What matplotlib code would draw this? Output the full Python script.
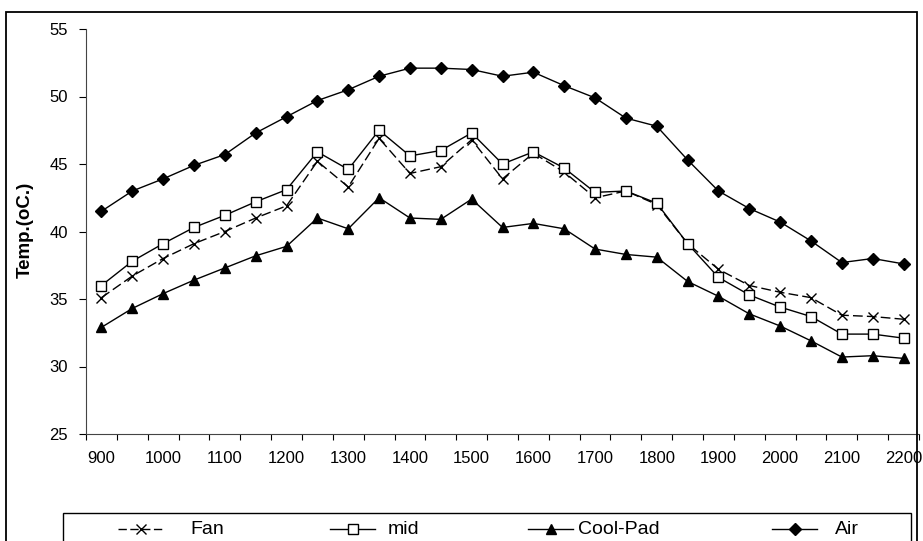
#!/usr/bin/env python3
"""Temperature profile over the day: Fan, mid, Cool-Pad and Air."""

import numpy as np
import matplotlib
matplotlib.use("Agg")
import matplotlib.pyplot as plt
from matplotlib.lines import Line2D
from matplotlib.patches import Rectangle

plt.rcParams["font.family"] = ["Liberation Sans", "DejaVu Sans"]

# clock times (hhmm), one per half hour
times = ["900", "930", "1000", "1030", "1100", "1130", "1200", "1230", "1300",
         "1330", "1400", "1430", "1500", "1530", "1600", "1630", "1700", "1730",
         "1800", "1830", "1900", "1930", "2000", "2030", "2100", "2130", "2200"]

fan = [35.1, 36.7, 38.0, 39.1, 40.0, 41.0, 41.9, 45.2, 43.3, 46.9, 44.3, 44.8,
       46.8, 43.9, 45.8, 44.4, 42.5, 43.0, 42.0, 39.1, 37.2, 36.0, 35.5, 35.1,
       33.8, 33.7, 33.5]
mid = [36.0, 37.8, 39.1, 40.3, 41.2, 42.2, 43.1, 45.9, 44.6, 47.5, 45.6, 46.0,
       47.3, 45.0, 45.9, 44.7, 42.9, 43.0, 42.1, 39.1, 36.6, 35.3, 34.4, 33.7,
       32.4, 32.4, 32.1]
cool_pad = [32.9, 34.3, 35.4, 36.4, 37.3, 38.2, 38.9, 41.0, 40.2, 42.5, 41.0, 40.9,
            42.4, 40.3, 40.6, 40.2, 38.7, 38.3, 38.1, 36.3, 35.2, 33.9, 33.0, 31.9,
            30.7, 30.8, 30.6]
air = [41.5, 43.0, 43.9, 44.9, 45.7, 47.3, 48.5, 49.7, 50.5, 51.5, 52.1, 52.1,
       52.0, 51.5, 51.8, 50.8, 49.9, 48.4, 47.8, 45.3, 43.0, 41.7, 40.7, 39.3,
       37.7, 38.0, 37.6]

W, H = 923, 541


def fx(px):
    return px / W


def fy(py):
    return 1 - py / H


fig = plt.figure(figsize=(W / 100, H / 100), dpi=100)
ax = fig.add_axes([fx(86), fy(434), fx(919) - fx(86), fy(29) - fy(434)])

x = np.arange(len(times))
styles = [
    ("Fan", fan, dict(marker="x", ms=7, mew=1.0, color="black", dashes=(7, 3))),
    ("mid", mid, dict(marker="s", ms=6.5, mew=1.0, mfc="white", mec="black", color="black")),
    ("Cool-Pad", cool_pad, dict(marker="^", ms=7.5, color="black")),
    ("Air", air, dict(marker="D", ms=6, color="black")),
]
for name, vals, kw in styles:
    ax.plot(x, vals, lw=1.0, label=name, **kw)

ax.set_xlim(-0.5, len(times) - 0.5)
ax.set_ylim(25, 55)
ax.set_yticks(np.arange(25, 56, 5))
ax.tick_params(axis="y", length=5, width=0.8, pad=8, labelsize=12)

# category boundaries carry the tick marks, labels sit under every other point
ax.set_xticks(np.arange(-0.5, len(times), 1.0))
ax.set_xticklabels([])
ax.set_xticks(x[::2], minor=True)
ax.set_xticklabels(times[::2], minor=True)
ax.tick_params(axis="x", which="major", length=4, width=0.8)
ax.tick_params(axis="x", which="minor", length=0, pad=12, labelsize=12)

for s in ("top", "right"):
    ax.spines[s].set_visible(False)
for s in ("left", "bottom"):
    ax.spines[s].set_linewidth(0.8)
    ax.spines[s].set_color("#444444")

fig.text(fx(25), fy(230), "Temp.(oC.)", rotation=90, ha="center", va="center",
         fontsize=13.5, fontweight="bold")

# outer chart frame and legend box
fig.add_artist(Rectangle((fx(6), fy(560)), fx(917) - fx(6), fy(12) - fy(560),
                         transform=fig.transFigure, fill=False, lw=1.3, ec="black"))
fig.add_artist(Rectangle((fx(63), fy(560)), fx(911) - fx(63), fy(513) - fy(560),
                         transform=fig.transFigure, fill=False, lw=1.0, ec="black"))

handle_x = [118, 330, 528, 772]
text_x = [190, 388, 578, 835]
leg_y = 529
for (name, vals, kw), hx, tx in zip(styles, handle_x, text_x):
    kw = dict(kw)
    ln = Line2D([fx(hx), fx(hx + 22.5), fx(hx + 45)], [fy(leg_y)] * 3,
                transform=fig.transFigure, lw=1.0, markevery=[1], **kw)
    if name == "Fan":
        ln.set_dashes((6, 2.5))
    fig.add_artist(ln)
    fig.text(fx(tx), fy(leg_y), name, ha="left", va="center", fontsize=14)

fig.savefig("out.png", dpi=100)
